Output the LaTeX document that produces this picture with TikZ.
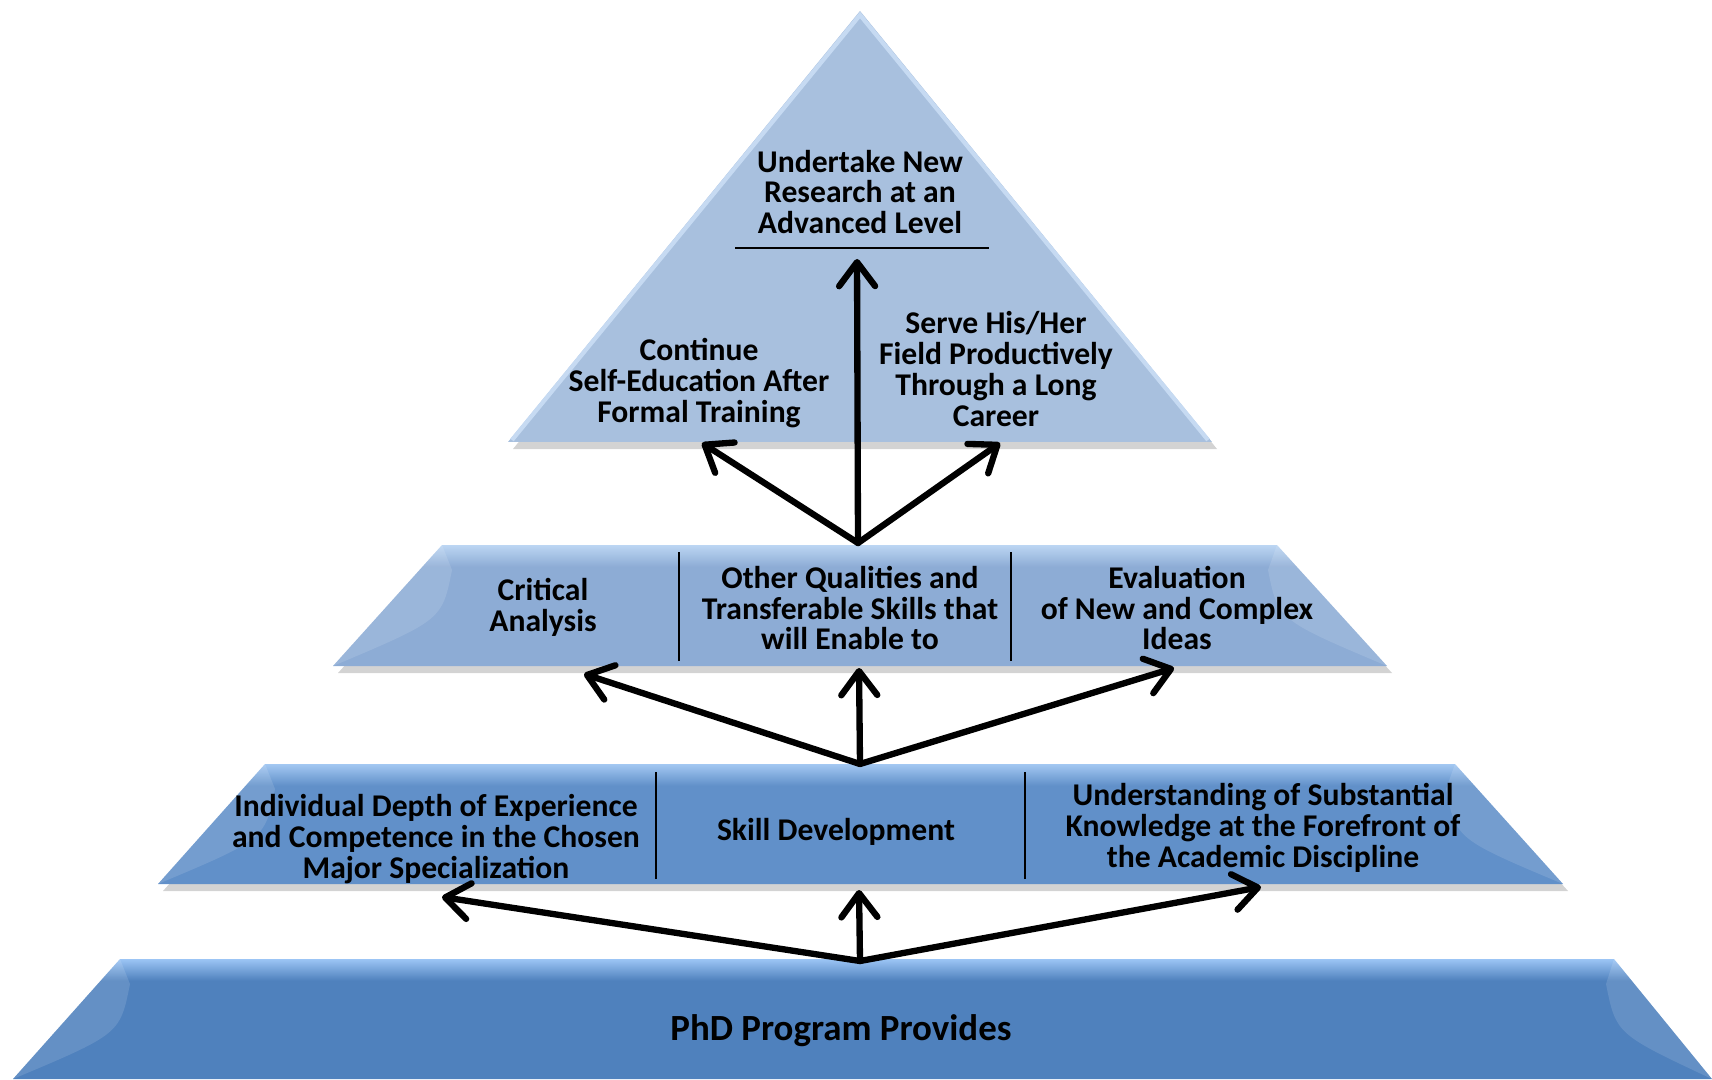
\documentclass[tikz,border=0pt]{standalone}
\usepackage{fontspec}
\setmainfont{Carlito}
\usetikzlibrary{arrows.meta,shadows}

\definecolor{baseMain}{HTML}{4F81BD}
\definecolor{baseTop}{HTML}{9CC5F5}
\definecolor{skillMain}{HTML}{6190C9}
\definecolor{skillTop}{HTML}{A3C8F2}
\definecolor{qualMain}{HTML}{8DACD5}
\definecolor{qualTop}{HTML}{BCD6F3}
\definecolor{goalMain}{HTML}{A8C0DE}
\definecolor{goalEdge}{HTML}{C6DAF2}

\pgfdeclareverticalshading{baseShade}{100bp}{color(0bp)=(baseMain); color(66bp)=(baseMain); color(75bp)=(baseTop); color(100bp)=(baseTop)}
\pgfdeclareverticalshading{skillShade}{100bp}{color(0bp)=(skillMain); color(66bp)=(skillMain); color(75bp)=(skillTop); color(100bp)=(skillTop)}
\pgfdeclareverticalshading{qualShade}{100bp}{color(0bp)=(qualMain); color(66bp)=(qualMain); color(75bp)=(qualTop); color(100bp)=(qualTop)}

\tikzset{
  tier/.style={drop shadow={shadow xshift=0.5mm, shadow yshift=-0.7mm, opacity=0.35}},
  facet/.style={fill=white, fill opacity=0.12},
  label/.style={font=\bfseries\fontsize{9}{8.8}\selectfont, align=center, inner sep=0pt},
  divider/.style={line width=0.7pt},
  rise/.style={line width=1.8pt, line cap=round, -{Straight Barb[length=2.4mm, width=3.6mm, round]}}
}

\begin{document}
\begin{tikzpicture}
		%%%%% START %%%%%
		\useasboundingbox (0, 0) rectangle (17.12, 10.79);
		
		% bottom tier
		\shade[shading=baseShade] (0.13, 0) -- (1.20, 1.20) -- (16.14, 1.20) -- (17.12, 0) -- cycle;
		\fill[facet] (0.13, 0) -- (1.20, 1.20) -- (1.30, 0.95) .. controls (1.20, 0.45) .. (0.13, 0) -- cycle;
		\fill[facet] (17.12, 0) -- (16.14, 1.20) -- (16.06, 0.95) .. controls (16.16, 0.45) .. (17.12, 0) -- cycle;
		\node[label, font=\bfseries\fontsize{10.5}{11}\selectfont] (phd) at (8.41, 0.48) {PhD Program Provides};
		
		% second tier
		\shade[tier, shading=skillShade] (1.58, 1.95) -- (2.65, 3.15) -- (14.55, 3.15) -- (15.63, 1.95) -- cycle;
		\fill[facet] (1.58, 1.95) -- (2.65, 3.15) -- (2.75, 2.90) .. controls (2.65, 2.40) .. (1.58, 1.95) -- cycle;
		\fill[facet] (15.63, 1.95) -- (14.55, 3.15) -- (14.46, 2.90) .. controls (14.56, 2.40) .. (15.63, 1.95) -- cycle;
		\draw[divider] (6.56, 2.00) -- (6.56, 3.07);
		\draw[divider] (10.25, 2.00) -- (10.25, 3.07);
		\node[label] (depth) at (4.36, 2.40) {Individual Depth of Experience\\and Competence in the Chosen\\Major Specialization};
		\node[label] (skill) at (8.36, 2.47) {Skill Development};
		\node[label] (know) at (12.63, 2.51) {Understanding of Substantial\\Knowledge at the Forefront of\\the Academic Discipline};
		
		% third tier
		\shade[tier, shading=qualShade] (3.33, 4.13) -- (4.42, 5.34) -- (12.77, 5.34) -- (13.87, 4.13) -- cycle;
		\fill[facet] (3.33, 4.13) -- (4.42, 5.34) -- (4.52, 5.09) .. controls (4.42, 4.59) .. (3.33, 4.13) -- cycle;
		\fill[facet] (13.87, 4.13) -- (12.77, 5.34) -- (12.68, 5.09) .. controls (12.78, 4.59) .. (13.87, 4.13) -- cycle;
		\draw[divider] (6.79, 4.18) -- (6.79, 5.27);
		\draw[divider] (10.11, 4.18) -- (10.11, 5.27);
		\node[label] (crit) at (5.43, 4.72) {Critical\\Analysis};
		\node[label] (other) at (8.50, 4.71) {Other Qualities and\\Transferable Skills that\\will Enable to};
		\node[label] (eval) at (11.77, 4.71) {Evaluation\\of New and Complex\\Ideas};
		
		% top triangle
		\fill[tier, goalMain] (5.08, 6.37) -- (8.60, 10.68) -- (12.12, 6.37) -- cycle;
		\draw[goalEdge, line width=1.2pt] (5.12, 6.39) -- (8.60, 10.64) -- (12.08, 6.39);
		\node[label] (research) at (8.60, 8.87) {Undertake New\\Research at an\\Advanced Level};
		\draw[line width=0.5pt] (7.35, 8.31) -- (9.89, 8.31);
		\node[label] (selfedu) at (6.99, 6.96) {Continue\\Self-Education After\\Formal Training};
		\node[label] (serve) at (9.96, 7.10) {Serve His/Her\\Field Productively\\Through a Long\\Career};
		
		% arrows
		\coordinate (hubA) at (8.60, 1.18);
		\coordinate (hubB) at (8.60, 3.15);
		\coordinate (hubC) at (8.58, 5.36);
		\coordinate (depthIn) at (4.42, 1.82);
		\coordinate (skillIn) at (8.59, 1.89);
		\coordinate (knowIn) at (12.61, 1.92);
		\coordinate (critIn) at (5.84, 4.05);
		\coordinate (otherIn) at (8.59, 4.11);
		\coordinate (evalIn) at (11.74, 4.11);
		\coordinate (selfIn) at (7.02, 6.36);
		\coordinate (resIn) at (8.57, 8.20);
		\coordinate (serveIn) at (10.00, 6.36);
		
		\draw[rise] (hubA) -- (depthIn);
		\draw[rise] (hubA) -- (skillIn);
		\draw[rise] (hubA) -- (knowIn);
		\draw[rise] (hubB) -- (critIn);
		\draw[rise] (hubB) -- (otherIn);
		\draw[rise] (hubB) -- (evalIn);
		\draw[rise] (hubC) -- (selfIn);
		\draw[rise] (hubC) -- (resIn);
		\draw[rise] (hubC) -- (serveIn);
		
		%%%%% END %%%%%
	\end{tikzpicture}
\end{document}
